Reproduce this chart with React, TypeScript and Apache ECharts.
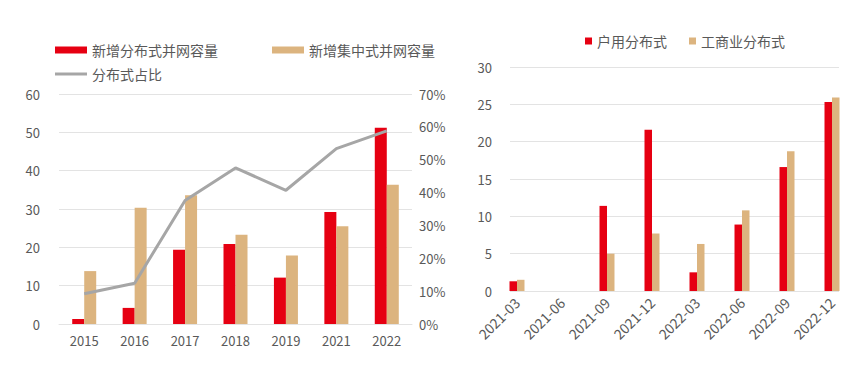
import React, { useEffect, useRef } from "react";
import * as echarts from "echarts";

const years = ["2015", "2016", "2017", "2018", "2019", "2021", "2022"];
const distributedAdd = [1.3, 4.2, 19.4, 20.9, 12.1, 29.2, 51.2];
const centralizedAdd = [13.8, 30.3, 33.6, 23.3, 17.9, 25.5, 36.3];
const distributedShare = [9.2, 12.4, 37.6, 47.5, 40.7, 53.4, 58.8];

const quarters = ["2021-03", "2021-06", "2021-09", "2021-12", "2022-03", "2022-06", "2022-09", "2022-12"];
const household = [1.3, 0, 11.4, 21.6, 2.5, 8.9, 16.6, 25.3];
const commercial = [1.5, 0, 5.0, 7.7, 6.3, 10.8, 18.7, 25.9];

const RED = "#e60012";
const TAN = "#dcb47f";
const GRAY = "#a6a6a6";
const TXT = "#595959";
const GRID = "#e3e3e3";
const FONT = "'Noto Sans CJK SC', 'Noto Sans', sans-serif";

export default function App() {
  const ref = useRef<HTMLDivElement>(null);
  useEffect(() => {
    document.body.style.margin = "0";
    const chart = echarts.init(ref.current!, null, { renderer: "svg" });
    const legendText = { color: TXT, fontSize: 14, fontFamily: FONT };
    const axisLabel = { color: TXT, fontSize: 13, fontFamily: FONT };
    chart.setOption({
      animation: false,
      backgroundColor: "#ffffff",
      textStyle: { fontFamily: FONT },
      legend: [
        { left: 50, top: 38, data: [{ name: "新增分布式并网容量", icon: "rect" }], itemWidth: 32, itemHeight: 7, textStyle: legendText },
        { left: 267, top: 38, data: [{ name: "新增集中式并网容量", icon: "rect" }], itemWidth: 32, itemHeight: 7, textStyle: legendText },
        { left: 50, top: 62, data: [{ name: "分布式占比", icon: "rect" }], itemWidth: 32, itemHeight: 3, textStyle: legendText },
        {
          left: 580, top: 29,
          data: [{ name: "户用分布式", icon: "rect" }, { name: "工商业分布式", icon: "rect" }],
          itemWidth: 7, itemHeight: 7, itemGap: 22, textStyle: legendText,
        },
      ],
      grid: [
        { left: 59, top: 94, width: 353, height: 230 },
        { left: 510, top: 67, width: 329, height: 224 },
        { left: 517, top: 67, width: 315, height: 224 },
      ],
      xAxis: [
        {
          gridIndex: 0, type: "category", data: years, boundaryGap: true,
          axisTick: { show: false }, axisLine: { lineStyle: { color: GRID, width: 1 } },
          axisLabel: { ...axisLabel, margin: 10 },
        },
        { gridIndex: 1, type: "value", min: 0, max: 1, show: false },
        {
          gridIndex: 2, type: "category", data: quarters, boundaryGap: false,
          axisTick: { show: false }, axisLine: { show: false },
          axisLabel: { ...axisLabel, fontSize: 14, rotate: 45, margin: 9, interval: 0 },
          splitLine: { show: false },
        },
      ],
      yAxis: [
        {
          gridIndex: 0, type: "value", min: 0, max: 60, interval: 10,
          axisLine: { show: false }, axisTick: { show: false },
          axisLabel: { ...axisLabel, margin: 19 },
          splitLine: { lineStyle: { color: GRID, width: 1 } },
        },
        {
          gridIndex: 0, type: "value", position: "right", min: 0, max: 70, interval: 10,
          axisLine: { show: false }, axisTick: { show: false },
          axisLabel: { ...axisLabel, margin: 7, formatter: "{value}%" },
          splitLine: { show: false },
        },
        {
          gridIndex: 1, type: "value", min: 0, max: 30, interval: 5,
          axisLine: { show: false }, axisTick: { show: false },
          axisLabel: { ...axisLabel, margin: 18 },
          splitLine: { lineStyle: { color: GRID, width: 1 } },
        },
        { gridIndex: 2, type: "value", min: 0, max: 30, interval: 5, show: false, splitLine: { show: false } },
      ],
      series: [
        {
          name: "新增分布式并网容量", type: "bar", xAxisIndex: 0, yAxisIndex: 0,
          data: distributedAdd, barWidth: 12, barGap: "0%", itemStyle: { color: RED },
        },
        {
          name: "新增集中式并网容量", type: "bar", xAxisIndex: 0, yAxisIndex: 0,
          data: centralizedAdd, barWidth: 12, barGap: "0%", itemStyle: { color: TAN },
        },
        {
          name: "分布式占比", type: "line", xAxisIndex: 0, yAxisIndex: 1,
          data: distributedShare, symbol: "none", lineStyle: { color: GRAY, width: 3 },
          itemStyle: { color: GRAY }, z: 5,
        },
        {
          name: "户用分布式", type: "bar", xAxisIndex: 2, yAxisIndex: 3,
          data: household, barWidth: 7.5, barGap: "0%", itemStyle: { color: RED },
        },
        {
          name: "工商业分布式", type: "bar", xAxisIndex: 2, yAxisIndex: 3,
          data: commercial, barWidth: 7.5, barGap: "0%", itemStyle: { color: TAN },
        },
      ],
    });
    return () => chart.dispose();
  }, []);
  return <div ref={ref} style={{ position: "absolute", left: 0, top: 0, width: 865, height: 375 }} />;
}
